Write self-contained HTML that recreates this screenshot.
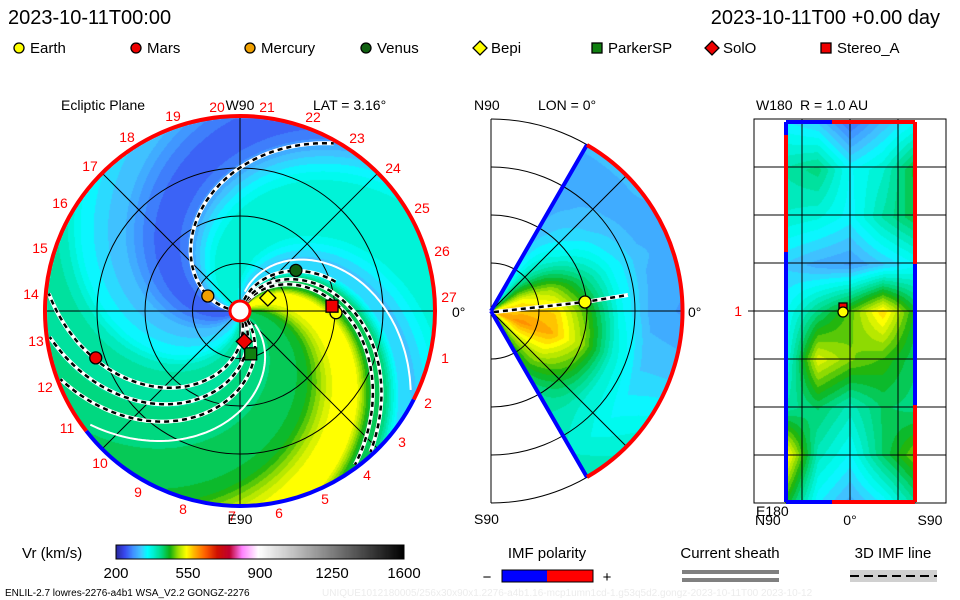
<!DOCTYPE html>
<html><head><meta charset="utf-8">
<style>
html,body{margin:0;padding:0;background:#fff;}
#wrap{position:relative;width:960px;height:600px;overflow:hidden;background:#fff;font-family:"Liberation Sans",sans-serif;}
canvas{position:absolute;}
svg{position:absolute;left:0;top:0;}
</style></head>
<body>
<div id="wrap">
<canvas id="ecl" width="400" height="400" style="left:40px;top:111px"></canvas>
<canvas id="mer" width="200" height="400" style="left:491px;top:111px"></canvas>
<canvas id="rad" width="131" height="381" style="left:785px;top:122px"></canvas>
<canvas id="cbar" width="288" height="14" style="left:116px;top:545px"></canvas>
<svg id="ov" width="960" height="600"></svg>
</div>
<script>
// ---- data ----
const cbarTicks=[200,550,900,1250,1600];
const phaseBins=[0,10,20,30,40,50,60,70,80,90,100,110,120,130,140,150,160,170,180,190,200,210,220,230,240,250,260,270,280,290,300,310,320,330,340,350];
const vrByPhase=[440,450,490,530,545,540,445,425,330,320,345,370,380,380,378,370,345,315,275,255,255,265,285,310,320,335,350,385,405,410,410,415,420,425,430,435];
const merLats=[60,40,20,0,-20,-40,-60];
const merRadii=[0,32,64,96,128,160,192];
const merVr=[
[350,340,330,310,300,300,310],
[460,450,400,350,320,300,310],
[540,540,500,420,350,310,300],
[560,570,560,470,360,300,290],
[580,600,580,500,380,320,320],
[510,540,520,460,380,350,370],
[450,460,450,410,390,380,400]];
const radVr=[
[340,320,260,310,350],
[400,420,350,380,450],
[380,370,345,400,440],
[320,300,290,320,350],
[350,420,480,560,450],
[360,530,490,470,430],
[400,430,390,430,420],
[560,390,350,430,490],
[460,340,300,340,410]];
const planetNames=["Earth","Mars","Mercury","Venus","Bepi","ParkerSP","SolO","Stereo_A"];
const planetR=[1.0,1.58,0.37,0.72,0.32,0.46,0.32,0.96];
const planetLon=[-1,198,155,36,25,-76,-82,3];
const dashedPhases=[176,62,68,290,303,316,77];
const whitePhases=[88,-30];
const dayLabels=["19","20","21","22","23","24","25","26","27","1","2","3","4","5","6","7","8","9","10","11","12","13","14","15","16","17","18"];

// ---- colormap ----
const stops=[[200,[40,40,160]],[240,[56,72,240]],[280,[64,144,255]],[320,[64,200,255]],[350,[0,255,255]],[380,[0,240,208]],[420,[0,216,128]],[460,[16,176,16]],[500,[160,224,0]],[540,[255,255,0]],[580,[255,176,0]],[630,[255,96,0]],[690,[208,16,0]],[750,[192,0,48]],[810,[255,128,255]],[890,[255,255,255]],[1600,[0,0,0]]];
function interp(v){if(v<=stops[0][0])return stops[0][1];
 for(let i=1;i<stops.length;i++){if(v<=stops[i][0]){const a=stops[i-1],b=stops[i];const t=(v-a[0])/(b[0]-a[0]);return a[1].map((c,k)=>Math.round(c+(b[1][k]-c)*t));}}
 return stops[stops.length-1][1];}
function cmap(v){return interp(Math.round(v/15)*15);}

// ---- geometry ----
const CX=240,CY=311,R=194,AU=96,K=0.6;
function phaseVr(p){p=((p%360)+360)%360;const i=Math.floor(p/10),t=(p-phaseBins[i])/10;const a=vrByPhase[i],b=vrByPhase[(i+1)%36];return a+(b-a)*t;}
(function(){const c=document.getElementById('ecl'),g=c.getContext('2d'),im=g.createImageData(400,400);
for(let y=0;y<400;y++)for(let x=0;x<400;x++){const px=x+40,py=y+111;const dx=px-CX,dy=CY-py;const r=Math.hypot(dx,dy);if(r>R)continue;
 const idx=(y*400+x)*4;let col;
 if(r<10)col=[255,255,255];else{const th=Math.atan2(dy,dx)*180/Math.PI;col=cmap(phaseVr(th+K*r));}
 im.data[idx]=col[0];im.data[idx+1]=col[1];im.data[idx+2]=col[2];im.data[idx+3]=255;}
g.putImageData(im,0,0);})();
function bil(grid,rows,cols,rv,cv){
 let i=0;while(i<rows.length-2&&!((rv<=rows[i]&&rv>=rows[i+1])||(rv>=rows[i]&&rv<=rows[i+1])))i++;
 let j=0;while(j<cols.length-2&&!(cv>=cols[j]&&cv<=cols[j+1]))j++;
 const ti=Math.min(1,Math.max(0,(rv-rows[i])/(rows[i+1]-rows[i]))),tj=Math.min(1,Math.max(0,(cv-cols[j])/(cols[j+1]-cols[j])));
 const a=grid[i][j]+(grid[i][j+1]-grid[i][j])*tj,b=grid[i+1][j]+(grid[i+1][j+1]-grid[i+1][j])*tj;return a+(b-a)*ti;}
(function(){const c=document.getElementById('mer'),g=c.getContext('2d'),im=g.createImageData(200,400);
for(let y=0;y<400;y++)for(let x=0;x<200;x++){const dx=x,dy=311-(y+111);const r=Math.hypot(dx,dy);const lat=Math.atan2(dy,dx)*180/Math.PI;
 if(r>192||Math.abs(lat)>60)continue;const col=cmap(bil(merVr,merLats,merRadii,lat,r));const idx=(y*200+x)*4;
 im.data[idx]=col[0];im.data[idx+1]=col[1];im.data[idx+2]=col[2];im.data[idx+3]=255;}
g.putImageData(im,0,0);})();
(function(){const c=document.getElementById('rad'),g=c.getContext('2d'),im=g.createImageData(131,381);
const rows=[0,1,2,3,4,5,6,7,8],cols=[0,1,2,3,4];
for(let y=0;y<381;y++)for(let x=0;x<131;x++){const col=cmap(bil(radVr,rows,cols,y/380*8,x/130*4));const idx=(y*131+x)*4;
 im.data[idx]=col[0];im.data[idx+1]=col[1];im.data[idx+2]=col[2];im.data[idx+3]=255;}
g.putImageData(im,0,0);})();
(function(){const g=document.getElementById('cbar').getContext('2d');for(let x=0;x<288;x++){const v=200+x/288*1400;const c=interp(v);g.fillStyle=`rgb(${c[0]},${c[1]},${c[2]})`;g.fillRect(x,0,1,14);}})();

// ---- overlay ----
const NS="http://www.w3.org/2000/svg",ov=document.getElementById('ov');
function el(t,a,txt){const e=document.createElementNS(NS,t);for(const k in a)e.setAttribute(k,a[k]);if(txt!==undefined)e.textContent=txt;ov.appendChild(e);return e;}
function spiral(ph,r0,r1){let d="";for(let r=r0;r<=r1;r+=2){const th=(ph-K*r)*Math.PI/180;d+=(d?"L":"M")+(CX+r*Math.cos(th)).toFixed(1)+","+(CY-r*Math.sin(th)).toFixed(1);}return d;}
[47.5,95,143].forEach(r=>{const e=el('circle',{cx:CX,cy:CY,r:r,fill:'none',stroke:'#000','stroke-width':1});});
[0,45,90,135].forEach(a=>{const t=a*Math.PI/180;const e=el('line',{x1:CX-R*Math.cos(t),y1:CY-R*Math.sin(t),x2:CX+R*Math.cos(t),y2:CY+R*Math.sin(t),stroke:'#000','stroke-width':1});});
whitePhases.forEach(p=>{const e=el('path',{d:spiral(p,20,188),fill:'none',stroke:'#fff','stroke-width':2});});
dashedPhases.forEach((p,i)=>{const r1=i===6?100:192;const d=spiral(p,12,r1);
 const w=el('path',{d:d,fill:'none',stroke:'#fff','stroke-width':4});
 const b=el('path',{d:d,fill:'none',stroke:'#000','stroke-width':2.5,'stroke-dasharray':'5,4'});});
function arc(cx,cy,r,a0,a1){const p=a=>[cx+r*Math.cos(a*Math.PI/180),cy-r*Math.sin(a*Math.PI/180)];const s=p(a0),e=p(a1);return `M${s[0]},${s[1]}A${r},${r} 0 ${Math.abs(a1-a0)>180?1:0} 0 ${e[0]},${e[1]}`;}
let e1=el('path',{d:arc(CX,CY,R+1,-27,218),fill:'none',stroke:'#f00','stroke-width':4});
let e2=el('path',{d:arc(CX,CY,R+1,218,333),fill:'none',stroke:'#00f','stroke-width':4});
let e3=el('circle',{cx:CX,cy:CY,r:10,fill:'#fff',stroke:'#f00','stroke-width':3});
const markerColor=["#ff0","#e00","#f0a000","#106010","#ff0","#108010","#e00","#e00"];
const markerShape=["c","c","c","c","d","s","d","s"];
function marker(shape,x,y,col,s){let e;
 if(shape==="c")e=el('circle',{cx:x,cy:y,r:s,fill:col,stroke:'#000','stroke-width':1.3});
 else if(shape==="s")e=el('rect',{x:x-s,y:y-s,width:2*s,height:2*s,fill:col,stroke:'#000','stroke-width':1.3});
 else e=el('polygon',{points:`${x},${y-s-2} ${x+s+2},${y} ${x},${y+s+2} ${x-s-2},${y}`,fill:col,stroke:'#000','stroke-width':1.3});
 return e;}
planetNames.forEach((n,i)=>{const t=planetLon[i]*Math.PI/180;const x=CX+planetR[i]*AU*Math.cos(t),y=CY-planetR[i]*AU*Math.sin(t);
 const m=marker(markerShape[i],x,y,markerColor[i],6);
 
 });
const dayPos=[[173,116],[217,107],[267,107],[313,117],[357,138],[393,168],[422,208],[442,251],[449,297],[445,358],[428,403],[402,442],[367,475],[325,499],[279,513],[232,516],[183,509],[138,492],[100,463],[67,428],[45,387],[36,341],[31,294],[40,248],[60,203],[90,166],[127,137]];
dayLabels.forEach((d,i)=>{const t=el('text',{x:dayPos[i][0],y:dayPos[i][1]+5,'font-size':14,fill:'#f00','text-anchor':'middle'},d);});
function txt(x,y,s,size,anchor,name,col){const t=el('text',{x:x,y:y,'font-size':size,'text-anchor':anchor||'start',fill:col||'#000'},s);return t;}
txt(8,24,"2023-10-11T00:00",20,'start','start-time');
txt(940,24,"2023-10-11T00 +0.00 day",20,'end','elapsed-time');
txt(61,110,"Ecliptic Plane",14,'start','ecliptic-title');
txt(240,110,"W90",14,'middle','w90-label');
txt(313,110,"LAT = 3.16°",14,'start','lat-label');
txt(240,524,"E90",14,'middle','e90-label');
txt(452,317,"0°",14,'start','ecliptic-0-label');
[48,96,144,192].forEach(r=>{const e=el('path',{d:`M491,${311-r}A${r},${r} 0 0 1 491,${311+r}`,fill:'none',stroke:'#000','stroke-width':1});});
let ml=el('line',{x1:491,y1:119,x2:491,y2:503,stroke:'#000'});
[0,45,-45].forEach(a=>{const t=a*Math.PI/180;const e=el('line',{x1:491,y1:311,x2:491+192*Math.cos(t),y2:311-192*Math.sin(t),stroke:'#000'});});
let mw=el('path',{d:"M491,311L"+(491+192*Math.cos(Math.PI/3))+","+(311-192*Math.sin(Math.PI/3))+"M491,311L"+(491+192*Math.cos(Math.PI/3))+","+(311+192*Math.sin(Math.PI/3)),stroke:'#00f','stroke-width':4,fill:'none'});
let mr=el('path',{d:`M${491+96},${311-166}A192,192 0 0 1 ${491+96},${311+166}`,stroke:'#f00','stroke-width':4,fill:'none'});
let mlw=el('path',{d:"M494,312L585,302L628,295",stroke:'#fff','stroke-width':4,fill:'none'});
let mlb=el('path',{d:"M494,312L585,302L628,295",stroke:'#000','stroke-width':2.5,'stroke-dasharray':'5,4',fill:'none'});
let me=marker("c",585,302,"#ff0",6);
txt(474,110,"N90",14,'start','n90-label');
txt(538,110,"LON = 0°",14,'start','lon-label');
txt(688,317,"0°",14,'start','meridional-0-label');
txt(474,524,"S90",14,'start','s90-label');
let rf=el('rect',{x:754,y:119,width:192,height:384,fill:'none',stroke:'#000'});
[802,850,898].forEach(x=>{const e=el('line',{x1:x,y1:119,x2:x,y2:503,stroke:'#000'});});
[167,215,263,311,359,407,455].forEach(y=>{const e=el('line',{x1:754,y1:y,x2:946,y2:y,stroke:'#000'});});
[["M786,122L786,135","#00f"],["M786,135L786,252","#f00"],["M786,252L786,502","#00f"],["M786,122L832,122","#00f"],["M832,122L915,122","#f00"],["M915,122L915,264","#f00"],["M915,264L915,405","#00f"],["M915,405L915,502","#f00"],["M786,502L832,502","#00f"],["M832,502L915,502","#f00"]].forEach(s=>{const e=el('path',{d:s[0],stroke:s[1],'stroke-width':4,fill:'none'});});
let rs=marker("s",843,307,"#e00",4);
let re=marker("c",843,312,"#ff0",5);
let tk=el('line',{x1:748,y1:311,x2:754,y2:311,stroke:'#000'});
txt(756,110,"W180",14,'start','w180-label');
txt(800,110,"R = 1.0 AU",14,'start','r-label');
txt(742,316,"1",14,'end','r1au-1-label','#f00');
txt(756,516,"E180",14,'start','e180-label');
txt(755,525,"N90",14,'start','r1au-n90-label');
txt(850,525,"0°",14,'middle','r1au-0-label');
txt(930,525,"S90",14,'middle','r1au-s90-label');
const legX=[19,136,250,366,480,597,712,826];
planetNames.forEach((n,i)=>{const m=marker(markerShape[i],legX[i],48,markerColor[i],5);
 txt(legX[i]+11,53,n,15,'start','legend-entry-'+n.toLowerCase());});
let cbf=el('rect',{x:116,y:545,width:288,height:14,fill:'none',stroke:'#000'});
txt(22,558,"Vr (km/s)",15,'start','colorbar-title');
cbarTicks.forEach(v=>{const x=116+(v-200)/1400*288;const t=el('text',{x:x,y:578,'font-size':15,'text-anchor':'middle',fill:'#000'},String(v));});
txt(5,596,"ENLIL-2.7 lowres-2276-a4b1 WSA_V2.2 GONGZ-2276",10,'start','run-info');
txt(322,596,"UNIQUE1012180005/256x30x90x1.2276-a4b1.16-mcp1umn1cd-1.g53q5d2.gongz-2023-10-11T00    2023-10-12",10,'start','run-id','#ececec');
txt(547,558,"IMF polarity",15,'middle','imf-polarity-title');
let pb=el('rect',{x:502,y:570,width:45,height:12,fill:'#00f'});
let pr=el('rect',{x:547,y:570,width:46,height:12,fill:'#f00'});
let pf=el('rect',{x:502,y:570,width:91,height:12,fill:'none',stroke:'#000'});
txt(487,582,"−",15,'middle','minus-sign');
txt(607,582,"+",15,'middle','plus-sign');
txt(730,558,"Current sheath",15,'middle','current-sheath-title');
let cs1=el('rect',{x:682,y:570,width:97,height:4,fill:'#808080'});
let cs2=el('rect',{x:682,y:578,width:97,height:4,fill:'#808080'});
txt(893,558,"3D IMF line",15,'middle','imf-line-title');
let il=el('rect',{x:850,y:570,width:87,height:12,fill:'#d0d0d0'});
let id2=el('line',{x1:850,y1:576,x2:937,y2:576,stroke:'#000','stroke-width':2,'stroke-dasharray':'9,5'});
</script>
</body></html>
